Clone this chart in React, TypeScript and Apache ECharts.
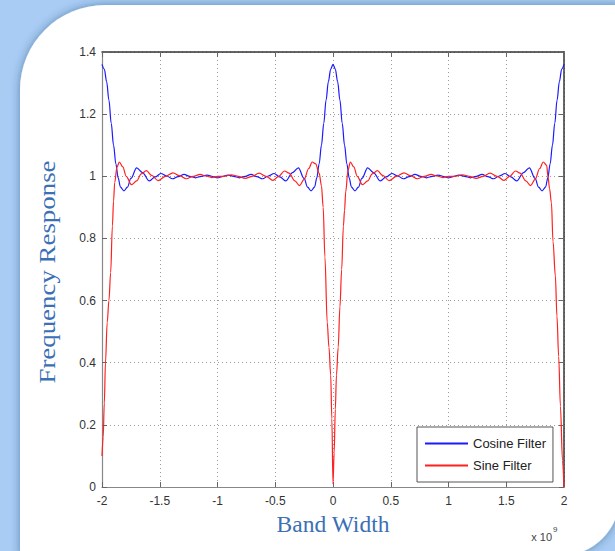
import React, { useEffect, useRef } from 'react';
import * as echarts from 'echarts';

// Band width (x 10^9) tick labels and frequency-response tick labels
const xTickLabels = ['-2', '-1.5', '-1', '-0.5', '0', '0.5', '1', '1.5', '2'];
const yTickLabels = ['0', '0.2', '0.4', '0.6', '0.8', '1', '1.2', '1.4'];

const seriesNames = ['Cosine Filter', 'Sine Filter'];

// Cosine filter (blue)
const cosineX = [
  -2, -1.98, -1.96, -1.94, -1.92, -1.9, -1.88, -1.86, -1.84, -1.81, -1.78, -1.75, -1.7, -1.65, -1.59, -1.54, -1.49, -1.44, -1.39, -1.34, -1.29, -1.24, -1.19, -1.14, -1.09, -1.04, -1,
  -0.96, -0.91, -0.86, -0.81, -0.76, -0.71, -0.66, -0.61, -0.56, -0.51, -0.46, -0.41, -0.35, -0.3, -0.25, -0.22, -0.19, -0.16, -0.14, -0.12, -0.1, -0.08, -0.06, -0.04, -0.02, 0,
  0.02, 0.04, 0.06, 0.08, 0.1, 0.12, 0.14, 0.16, 0.19, 0.22, 0.25, 0.3, 0.35, 0.41, 0.46, 0.51, 0.56, 0.61, 0.66, 0.71, 0.76, 0.81, 0.86, 0.91, 0.96, 1,
  1.04, 1.09, 1.14, 1.19, 1.24, 1.29, 1.34, 1.39, 1.44, 1.49, 1.54, 1.59, 1.65, 1.7, 1.75, 1.78, 1.81, 1.84, 1.86, 1.88, 1.9, 1.92, 1.94, 1.96, 1.98, 2,
];
const cosineY = [
  1.36, 1.345, 1.305, 1.245, 1.17, 1.1, 1.04, 0.995, 0.965, 0.953, 0.965, 0.993, 1.027, 1.012, 0.985, 0.998, 1.009, 1.001, 0.992, 0.999, 1.006, 1.0, 0.995, 1.0, 1.004, 0.999, 0.995,
  0.999, 1.004, 1.0, 0.995, 1.0, 1.006, 0.999, 0.992, 1.001, 1.009, 0.998, 0.985, 1.012, 1.027, 0.993, 0.965, 0.953, 0.965, 0.995, 1.04, 1.1, 1.17, 1.245, 1.305, 1.345, 1.36,
  1.345, 1.305, 1.245, 1.17, 1.1, 1.04, 0.995, 0.965, 0.953, 0.965, 0.993, 1.027, 1.012, 0.985, 0.998, 1.009, 1.001, 0.992, 0.999, 1.006, 1.0, 0.995, 1.0, 1.004, 0.999, 0.995,
  0.999, 1.004, 1.0, 0.995, 1.0, 1.006, 0.999, 0.992, 1.001, 1.009, 0.998, 0.985, 1.012, 1.027, 0.993, 0.965, 0.953, 0.965, 0.995, 1.04, 1.1, 1.17, 1.245, 1.305, 1.345, 1.36,
];

// Sine filter (red)
const sineX = [
  -2, -1.99, -1.98, -1.97, -1.955, -1.94, -1.925, -1.91, -1.9, -1.89, -1.87, -1.85, -1.82, -1.79, -1.745, -1.7, -1.66, -1.615, -1.57, -1.515, -1.45, -1.385, -1.33, -1.27, -1.21, -1.15, -1.1, -1.05, -1,
  -0.94, -0.88, -0.82, -0.76, -0.7, -0.64, -0.58, -0.52, -0.47, -0.42, -0.38, -0.33, -0.29, -0.25, -0.21, -0.18, -0.15, -0.12, -0.1, -0.085, -0.07, -0.05, -0.035, -0.02, -0.01, 0,
  0.01, 0.02, 0.03, 0.045, 0.06, 0.075, 0.09, 0.1, 0.11, 0.13, 0.15, 0.18, 0.21, 0.255, 0.3, 0.34, 0.385, 0.43, 0.485, 0.55, 0.615, 0.67, 0.73, 0.79, 0.85, 0.9, 0.95, 1,
  1.06, 1.12, 1.18, 1.24, 1.3, 1.36, 1.42, 1.48, 1.53, 1.58, 1.62, 1.67, 1.71, 1.75, 1.79, 1.82, 1.85, 1.861, 1.875, 1.891, 1.905, 1.925, 1.939, 1.954, 1.969, 1.987, 2,
];
const sineY = [
  0.1, 0.16, 0.27, 0.4, 0.53, 0.6, 0.69, 0.84, 0.92, 0.98, 1.03, 1.046, 1.03, 1.0, 0.973, 0.985, 1.008, 1.018, 1.003, 0.986, 1.0, 1.011, 1.002, 0.992, 1.0, 1.006, 1.001, 0.996, 1.0,
  1.0, 1.005, 1.0, 0.993, 1.0, 1.01, 1.0, 0.987, 1.0, 1.017, 1.01, 0.985, 0.97, 0.99, 1.025, 1.046, 1.04, 1.01, 0.97, 0.9, 0.74, 0.53, 0.45, 0.36, 0.22, 0.01,
  0.11, 0.25, 0.36, 0.45, 0.58, 0.7, 0.84, 0.89, 0.95, 1.02, 1.046, 1.03, 1.0, 0.973, 0.985, 1.008, 1.018, 1.003, 0.986, 1.0, 1.011, 1.002, 0.992, 1.0, 1.006, 1.001, 0.996, 1.0,
  1.0, 1.005, 1.0, 0.993, 1.0, 1.01, 1.0, 0.987, 1.0, 1.017, 1.01, 0.985, 0.97, 0.99, 1.025, 1.046, 1.035, 1.0, 0.96, 0.915, 0.79, 0.68, 0.55, 0.42, 0.26, 0.086, 0,
];

const zip = (xs: number[], ys: number[]) => xs.map((x, i) => [x, ys[i]]);

const tickFont = { color: '#333', fontSize: 12, fontFamily: 'Liberation Sans' };
const titleColor = '#3b6fb6';

export default function App() {
  const ref = useRef<HTMLDivElement>(null);
  useEffect(() => {
    document.body.style.margin = '0';
    const chart = echarts.init(ref.current!, null, { renderer: 'svg' });
    const xFmt = (v: number) => xTickLabels[Math.round((v + 2) / 0.5)] ?? '';
    const yFmt = (v: number) => yTickLabels[Math.round(v / 0.2)] ?? '';
    const baseX = { type: 'value', min: -2, max: 2, interval: 0.5 };
    const baseY = { type: 'value', min: 0, max: 1.4, interval: 0.2 };
    chart.setOption({
      animation: false,
      backgroundColor: '#a8ccf4',
      grid: { left: 102, right: 51, top: 52, bottom: 64, containLabel: false },
      xAxis: [
        {
          ...baseX,
          position: 'bottom',
          axisLine: { show: true, onZero: false, lineStyle: { color: '#888', width: 1.2 } },
          axisTick: { show: true, inside: true, length: 5, lineStyle: { color: '#666' } },
          axisLabel: { ...tickFont, margin: 8, formatter: xFmt },
          splitLine: { show: true, lineStyle: { color: '#9a9a9a', type: [1, 3], width: 1 } },
        },
        {
          ...baseX,
          position: 'top',
          axisLine: { show: true, onZero: false, lineStyle: { color: '#333', width: 1.5 } },
          axisTick: { show: true, inside: true, length: 5, lineStyle: { color: '#666' } },
          axisLabel: { show: false },
          splitLine: { show: false },
        },
      ],
      yAxis: [
        {
          ...baseY,
          position: 'left',
          axisLine: { show: true, onZero: false, lineStyle: { color: '#888', width: 1.2 } },
          axisTick: { show: true, inside: true, length: 5, lineStyle: { color: '#666' } },
          axisLabel: { ...tickFont, margin: 6, formatter: yFmt },
          splitLine: { show: true, lineStyle: { color: '#9a9a9a', type: [1, 3], width: 1 } },
        },
        {
          ...baseY,
          position: 'right',
          axisLine: { show: true, onZero: false, lineStyle: { color: '#333', width: 1.5 } },
          axisTick: { show: true, inside: true, length: 5, lineStyle: { color: '#666' } },
          axisLabel: { show: false },
          splitLine: { show: false },
        },
      ],
      legend: {
        orient: 'vertical',
        left: 417,
        top: 427,
        data: seriesNames,
        icon: 'rect',
        itemWidth: 43,
        itemHeight: 2,
        itemGap: 9,
        padding: [10, 7, 10, 8],
        borderColor: '#555',
        borderWidth: 1,
        backgroundColor: '#fff',
        textStyle: { color: '#222', fontSize: 13, fontFamily: 'Liberation Sans' },
      },
      series: [
        {
          name: seriesNames[0],
          type: 'line',
          data: zip(cosineX, cosineY),
          showSymbol: false,
          symbol: 'none',
          smooth: 0.35,
          smoothMonotone: 'x',
          lineStyle: { color: '#1a1aff', width: 1.2 },
          itemStyle: { color: '#1a1aff' },
          z: 3,
        },
        {
          name: seriesNames[1],
          type: 'line',
          data: zip(sineX, sineY),
          showSymbol: false,
          symbol: 'none',
          smooth: 0.35,
          smoothMonotone: 'x',
          lineStyle: { color: '#ff2020', width: 1.2 },
          itemStyle: { color: '#ff2020' },
          z: 4,
        },
      ],
      graphic: [
        {
          type: 'rect',
          z: -100,
          silent: true,
          shape: { x: 20, y: 5, width: 600, height: 551, r: [85, 0, 60, 0] },
          style: { fill: '#ffffff', shadowBlur: 10, shadowColor: 'rgba(30,50,90,0.45)' },
        },
        {
          type: 'text',
          x: 47,
          y: 272,
          rotation: Math.PI / 2,
          scaleX: 1.12,
          style: {
            text: 'Frequency Response',
            fill: titleColor,
            font: '24px "Liberation Serif", serif',
            align: 'center',
            verticalAlign: 'middle',
          },
        },
        {
          type: 'text',
          x: 333,
          y: 524,
          style: {
            text: 'Band Width',
            fill: titleColor,
            font: '23.5px "Liberation Serif", serif',
            align: 'center',
            verticalAlign: 'middle',
          },
        },
        {
          type: 'text',
          x: 552,
          y: 537,
          style: {
            text: 'x 10',
            fill: '#444',
            font: '11px "Liberation Sans", sans-serif',
            align: 'right',
            verticalAlign: 'middle',
          },
        },
        {
          type: 'text',
          x: 553,
          y: 529,
          style: {
            text: '9',
            fill: '#444',
            font: '8px "Liberation Sans", sans-serif',
            align: 'left',
            verticalAlign: 'middle',
          },
        },
      ],
    });
    return () => chart.dispose();
  }, []);
  return <div ref={ref} style={{ width: 615, height: 551 }} />;
}
